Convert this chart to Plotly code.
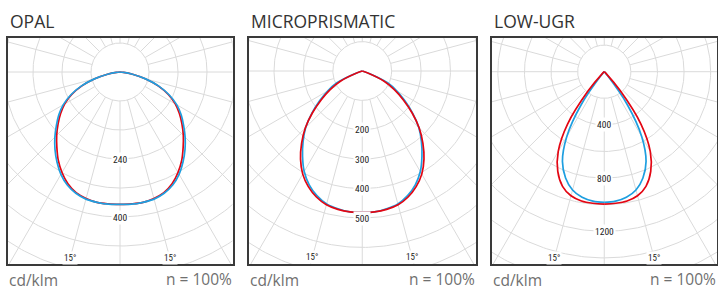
import numpy as np
import plotly.graph_objects as go

W, H = 718, 293

# ---------------- data (cd/klm) ----------------
ANGLES = [0, 5, 10, 15, 20, 25, 30, 35, 40, 45, 50, 55, 60, 65, 70, 75, 80, 85, 90]

OPAL_C0 = [365, 365, 365, 361, 354, 340, 320, 297, 271, 247, 223, 200, 176, 147, 112, 72, 35, 10, 0]
OPAL_C90 = [365, 366, 365, 363, 356, 344, 326, 303, 279, 254, 229, 206, 181, 150, 114, 73, 35, 10, 0]

MICRO_C0 = [481, 481, 478, 471, 456, 434, 405, 366, 321, 274, 221, 170, 126, 82, 20, 0, 0, 0, 0]
MICRO_C90 = [481, 481, 476, 468, 451, 427, 395, 354, 313, 272, 224, 177, 136, 95, 27, 0, 0, 0, 0]

LOWUGR_C0 = [995, 993, 987, 966, 917, 827, 692, 481, 188, 23, 0, 0, 0, 0, 0, 0, 0, 0, 0]
LOWUGR_C90 = [982, 977, 959, 921, 850, 744, 564, 301, 38, 0, 0, 0, 0, 0, 0, 0, 0, 0, 0]

TITLES = ["OPAL", "MICROPRISMATIC", "LOW-UGR"]
RING_STEPS = [80, 100, 200]
RING_LABELS = [[240, 400], [200, 300, 400, 500], [400, 800, 1200]]
ANGLE_TICK = 15
UNIT_TEXT = "cd/klm"
EFF_TEXT = "n = 100%"

SERIES = [(OPAL_C0, OPAL_C90), (MICRO_C0, MICRO_C90), (LOWUGR_C0, LOWUGR_C90)]

# ---------------- layout geometry (pixels) ----------------
BOX_LEFT = [7.5, 248.5, 491.5]
BOX_RIGHT = [232.5, 476.0, 717.0]
BOX_TOP, BOX_BOTTOM = 37.5, 264.0
CENTER_Y = [72.0, 71.0, 71.7]
RING_PX = [29.0, 29.4, 26.6]      # pixel radius of one ring step
ANGLE_LABEL_PX = 193.0

RED = "#e30613"
BLUE = "#1e9fe0"
GRID = "#dadada"
FRAME = "#3a3a3a"
NUM_FONT = "Liberation Sans Narrow, Arial Narrow, Roboto Condensed, Roboto, sans-serif"

fig = go.Figure()
annotations = []
layout_axes = {}


def half_xy(vals, sign):
    """One half of a symmetric intensity curve, from nadir up to the first zero."""
    th, rr = [], []
    for a, v in zip(ANGLES, vals):
        th.append(a)
        rr.append(v)
        if v == 0:
            break
    th = np.radians(np.array(th, dtype=float))
    rr = np.array(rr, dtype=float)
    return sign * rr * np.sin(th), -rr * np.cos(th)


for i in range(3):
    sfx = "" if i == 0 else str(i + 1)
    xa, ya = "x" + sfx, "y" + sfx
    step = RING_STEPS[i]
    upp = step / RING_PX[i]  # units per pixel
    cx = (BOX_LEFT[i] + BOX_RIGHT[i]) / 2
    cy = CENTER_Y[i]
    xr = [-(cx - BOX_LEFT[i]) * upp, (BOX_RIGHT[i] - cx) * upp]
    yr = [-(BOX_BOTTOM - cy) * upp, (cy - BOX_TOP) * upp]

    # rings
    t = np.linspace(0, 2 * np.pi, 361)
    gx, gy = [], []
    for k in range(1, 10):
        r = k * step
        gx += list(r * np.cos(t)) + [None]
        gy += list(r * np.sin(t)) + [None]
    # radial spokes
    for a in range(0, 360, 15):
        ar = np.radians(a)
        gx += [step * np.sin(ar), 10 * step * np.sin(ar), None]
        gy += [-step * np.cos(ar), -10 * step * np.cos(ar), None]
    fig.add_trace(go.Scatter(x=gx, y=gy, mode="lines", line=dict(color=GRID, width=1),
                             hoverinfo="skip", showlegend=False, xaxis=xa, yaxis=ya))

    red_vals, blue_vals = SERIES[i]
    order = [(red_vals, RED), (blue_vals, BLUE)] if i == 0 else [(blue_vals, BLUE), (red_vals, RED)]
    for vals, col in order:
        for sgn in (-1, 1):
            x, y = half_xy(vals, sgn)
            fig.add_trace(go.Scatter(x=x, y=y, mode="lines",
                                     line=dict(color=col, width=1.7, shape="spline", smoothing=1.0),
                                     showlegend=False, xaxis=xa, yaxis=ya))

    # ring labels
    for v in RING_LABELS[i]:
        annotations.append(dict(x=0, y=-v, xref=xa, yref=ya, text=str(v), showarrow=False,
                                font=dict(family=NUM_FONT, size=9.5, color="#222"),
                                bgcolor="white", borderpad=1))
    # angle labels
    rl = ANGLE_LABEL_PX * upp
    for sgn in (-1, 1):
        ar = np.radians(ANGLE_TICK)
        annotations.append(dict(x=sgn * rl * np.sin(ar), y=-rl * np.cos(ar), xref=xa, yref=ya,
                                text=f"{ANGLE_TICK}°", showarrow=False,
                                font=dict(family=NUM_FONT, size=9, color="#222"),
                                bgcolor="white", borderpad=1))

    # titles and footers
    annotations.append(dict(x=BOX_LEFT[i] / W, y=1 - 20.5 / H, xref="paper", yref="paper",
                            xanchor="left", yanchor="middle", text=TITLES[i], showarrow=False,
                            font=dict(family="Open Sans", size=17.5, color="#333")))
    annotations.append(dict(x=BOX_LEFT[i] / W, y=0.002, xref="paper", yref="paper",
                            xanchor="left", yanchor="bottom", text=UNIT_TEXT, showarrow=False,
                            borderpad=0,
                            font=dict(family="Open Sans", size=15.5, color="#707070")))
    annotations.append(dict(x=BOX_RIGHT[i] / W, y=0.006, xref="paper", yref="paper",
                            xanchor="right", yanchor="bottom", text=EFF_TEXT, showarrow=False,
                            borderpad=0,
                            font=dict(family="Open Sans", size=15.5, color="#707070")))

    axcommon = dict(showgrid=False, zeroline=False, showticklabels=False, ticks="",
                    showline=True, mirror=True, linecolor=FRAME, linewidth=1.5, fixedrange=True)
    layout_axes["xaxis" + sfx] = dict(domain=[BOX_LEFT[i] / W, BOX_RIGHT[i] / W], range=xr,
                                      anchor=ya, **axcommon)
    layout_axes["yaxis" + sfx] = dict(domain=[1 - BOX_BOTTOM / H, 1 - BOX_TOP / H], range=yr,
                                      anchor=xa, **axcommon)

fig.update_layout(width=W, height=H, margin=dict(l=0, r=0, t=0, b=0),
                  paper_bgcolor="white", plot_bgcolor="white",
                  annotations=annotations, **layout_axes)

fig.write_html("out.html", config={"displayModeBar": False},
               post_script="document.body.style.margin='0';document.body.style.overflow='hidden';")
